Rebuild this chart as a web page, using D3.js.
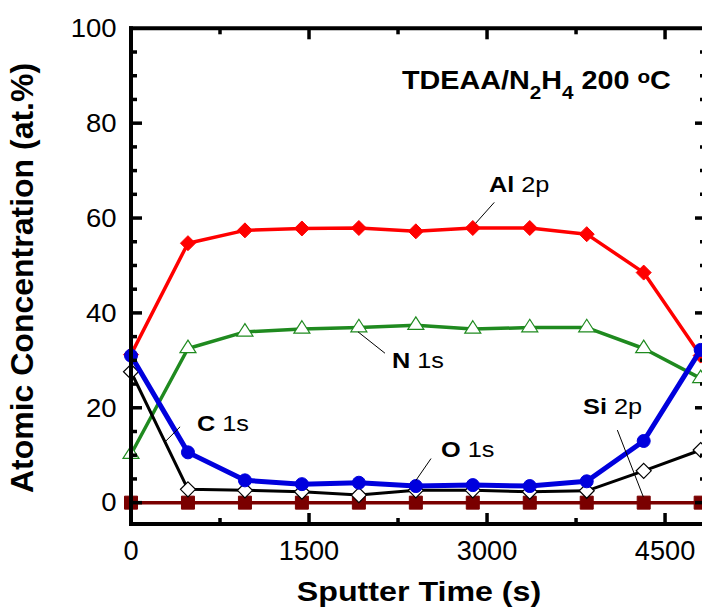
<!DOCTYPE html>
<html>
<head>
<meta charset="utf-8">
<script src="https://cdn.jsdelivr.net/npm/d3@7"></script>
<style>
  html, body { margin: 0; padding: 0; background: #fff; }
  svg { display: block; }
  text { font-family: "Liberation Sans", Arial, sans-serif; fill: #000; }
</style>
</head>
<body>
<svg id="chart" width="702" height="610"></svg>
<script>
// ---------------- data ----------------
const sputterTime = [0, 480, 960, 1440, 1920, 2400, 2880, 3360, 3840, 4320, 4800];
const al2p = [31.2, 54.7, 57.4, 57.8, 57.9, 57.2, 57.9, 57.9, 56.6, 48.5, 31.0];
const n1s  = [10.2, 32.5, 36.0, 36.6, 36.9, 37.4, 36.6, 36.9, 36.9, 32.5, 26.2];
const o1s  = [31.0, 10.6, 4.7, 3.9, 4.2, 3.5, 3.7, 3.5, 4.5, 13.0, 32.2];
const c1s  = [27.6, 2.8, 2.6, 2.3, 1.6, 2.6, 2.6, 2.3, 2.5, 6.7, 11.1];
const si2p = [0, 0, 0, 0, 0, 0, 0, 0, 0, 0, 0];

const xTickValues = [0, 1500, 3000, 4500];
const xMinorValues = [750, 2250, 3750];
const yTickValues = [0, 20, 40, 60, 80, 100];
const yMinorValues = [5, 10, 15, 25, 30, 35, 45, 50, 55, 65, 70, 75, 85, 90, 95];

const titleParts = { main1: "TDEAA/N", sub1: "2", main2: "H", sub2: "4", main3: " 200 ", sup: "o", main4: "C" };
const xLabel = "Sputter Time (s)";
const yLabel = "Atomic Concentration (at.%)";

// annotation labels (positions in data units)
const annotations = [
  { bold: "Al", rest: " 2p", lx: 3016, ly: 65.5, from: [3061, 63.3], to: [2904, 58.9] },
  { bold: "N",  rest: " 1s", lx: 2199, ly: 28.3, from: [2140, 31.5], to: [1913, 36.0] },
  { bold: "C",  rest: " 1s", lx: 556,  ly: 15.1, from: [414, 16.0],  to: [286, 12.8] },
  { bold: "O",  rest: " 1s", lx: 2612, ly: 9.66, from: [2528, 9.3],  to: [2401, 4.7] },
  { bold: "Si", rest: " 2p", lx: 3809, ly: 18.7, from: [4098, 15.3], to: [4317, 1.2] }
];

// ---------------- layout ----------------
const svg = d3.select("#chart");
const X0 = 131, X1 = 706, Y0 = 524, YT = 28.3;
const x = d3.scaleLinear().domain([0, 4845]).range([X0, X1]);
const y = d3.scaleLinear().domain([-4.5, 100]).range([Y0, YT]);
const SX = 1.15; // horizontal stretch of the reference typography

function stext(parent, px, py, anchor, size, weight, sx) {
  return parent.append("text")
    .attr("transform", `translate(${px},${py}) scale(${sx || SX},1)`)
    .attr("text-anchor", anchor)
    .style("font-size", size + "px")
    .style("font-weight", weight || "normal");
}

// custom symbols
const diamondSym = { draw(ctx, s) { ctx.moveTo(0, -s); ctx.lineTo(s, 0); ctx.lineTo(0, s); ctx.lineTo(-s, 0); ctx.closePath(); } };
const triSym = { draw(ctx, s) { const w = s, h = s * 0.78; ctx.moveTo(0, -h * 2 / 3); ctx.lineTo(w / 2, h / 3); ctx.lineTo(-w / 2, h / 3); ctx.closePath(); } };
const squareSym = { draw(ctx, s) { ctx.rect(-s / 2, -s / 2, s, s); } };
const circleSym = { draw(ctx, s) { ctx.moveTo(s, 0); ctx.arc(0, 0, s, 0, 2 * Math.PI); } };

const series = [
  { vals: al2p, color: "#ff0000", lw: 3.5, sym: diamondSym, size: 7.5, fill: "#ff0000", stroke: "#ff0000", sw: 1 },
  { vals: n1s,  color: "#1f8a1f", lw: 3.5, sym: triSym, size: 16, fill: "#ffffff", stroke: "#1f8a1f", sw: 1.2 },
  { vals: si2p, color: "#7a0000", lw: 3.5, sym: squareSym, size: 13, fill: "#7a0000", stroke: "#7a0000", sw: 1 },
  { vals: c1s,  color: "#000000", lw: 3, sym: diamondSym, size: 7.5, fill: "#ffffff", stroke: "#000000", sw: 1.2 },
  { vals: o1s,  color: "#0000dd", lw: 5, sym: circleSym, size: 6.5, fill: "#0000dd", stroke: "#0000dd", sw: 1 }
];

const line = d3.line().x(d => x(d[0])).y(d => y(d[1]));

series.forEach(s => {
  const pts = sputterTime.map((t, i) => [t, s.vals[i]]);
  svg.append("path").datum(pts).attr("d", line)
    .attr("fill", "none").attr("stroke", s.color).attr("stroke-width", s.lw)
    .attr("stroke-linejoin", "round");
  svg.append("g").selectAll("path").data(pts).join("path")
    .attr("transform", d => `translate(${x(d[0])},${y(d[1])})`)
    .attr("d", d3.symbol().type(s.sym).size(s.size))
    .attr("fill", s.fill).attr("stroke", s.stroke).attr("stroke-width", s.sw);
});

// ---------------- axes ----------------
const fr = svg.append("g");
const axisW = 4;
fr.append("line").attr("x1", X0).attr("x2", X0).attr("y1", YT - axisW / 2).attr("y2", Y0 + axisW / 2).attr("stroke", "#000").attr("stroke-width", axisW);
fr.append("line").attr("x1", X0 - axisW / 2).attr("x2", X1 + 4).attr("y1", Y0).attr("y2", Y0).attr("stroke", "#000").attr("stroke-width", axisW);
fr.append("line").attr("x1", X0 - axisW / 2).attr("x2", X1 + 4).attr("y1", YT).attr("y2", YT).attr("stroke", "#000").attr("stroke-width", axisW);
fr.append("line").attr("x1", X1).attr("x2", X1).attr("y1", YT).attr("y2", Y0).attr("stroke", "#000").attr("stroke-width", axisW);

const MAJ = 11, MIN = 6, TW = 3.5;
function xt(vals, len) {
  vals.forEach(v => {
    fr.append("line").attr("x1", x(v)).attr("x2", x(v)).attr("y1", Y0).attr("y2", Y0 - len).attr("stroke", "#000").attr("stroke-width", TW);
    fr.append("line").attr("x1", x(v)).attr("x2", x(v)).attr("y1", YT).attr("y2", YT + len).attr("stroke", "#000").attr("stroke-width", TW);
  });
}
function yt(vals, len) {
  vals.forEach(v => {
    fr.append("line").attr("x1", X0).attr("x2", X0 + len).attr("y1", y(v)).attr("y2", y(v)).attr("stroke", "#000").attr("stroke-width", TW);
    fr.append("line").attr("x1", X1).attr("x2", X1 - len).attr("y1", y(v)).attr("y2", y(v)).attr("stroke", "#000").attr("stroke-width", TW);
  });
}
xt(xTickValues.filter(v => v > 0), MAJ);
xt(xMinorValues, MIN);
yt(yTickValues.filter(v => v < 100), MAJ);
yt(yMinorValues, MIN);

// tick labels
xTickValues.forEach(v => stext(svg, x(v), 560, "middle", 28, "normal", 0.97).text(d3.format("d")(v)));
yTickValues.forEach(v => stext(svg, 116.5, y(v) + 8.8, "end", 25, "normal", 1.1).text(v));

// axis titles
stext(svg, 419, 601, "middle", 28, "bold").text(xLabel);
svg.append("text")
  .attr("transform", `translate(33,278) rotate(-90)`)
  .attr("text-anchor", "middle")
  .style("font-size", "32px").style("font-weight", "bold")
  .text(yLabel);

// title
const tt = stext(svg, x(2283), y(87.3), "start", 25, "bold");
tt.append("tspan").text(titleParts.main1);
tt.append("tspan").attr("dy", 10).style("font-size", "18px").text(titleParts.sub1);
tt.append("tspan").attr("dy", -10).text(titleParts.main2);
tt.append("tspan").attr("dy", 10).style("font-size", "18px").text(titleParts.sub2);
tt.append("tspan").attr("dy", -10).text(titleParts.main3);
tt.append("tspan").attr("dy", -6).style("font-size", "18px").text(titleParts.sup);
tt.append("tspan").attr("dy", 6).text(titleParts.main4);

// annotations
annotations.forEach(a => {
  svg.append("line")
    .attr("x1", x(a.from[0])).attr("y1", y(a.from[1]))
    .attr("x2", x(a.to[0])).attr("y2", y(a.to[1]))
    .attr("stroke", "#000").attr("stroke-width", 1);
  const t = stext(svg, x(a.lx), y(a.ly), "start", 22);
  t.append("tspan").style("font-weight", "bold").text(a.bold);
  t.append("tspan").text(a.rest);
});
</script>
</body>
</html>
